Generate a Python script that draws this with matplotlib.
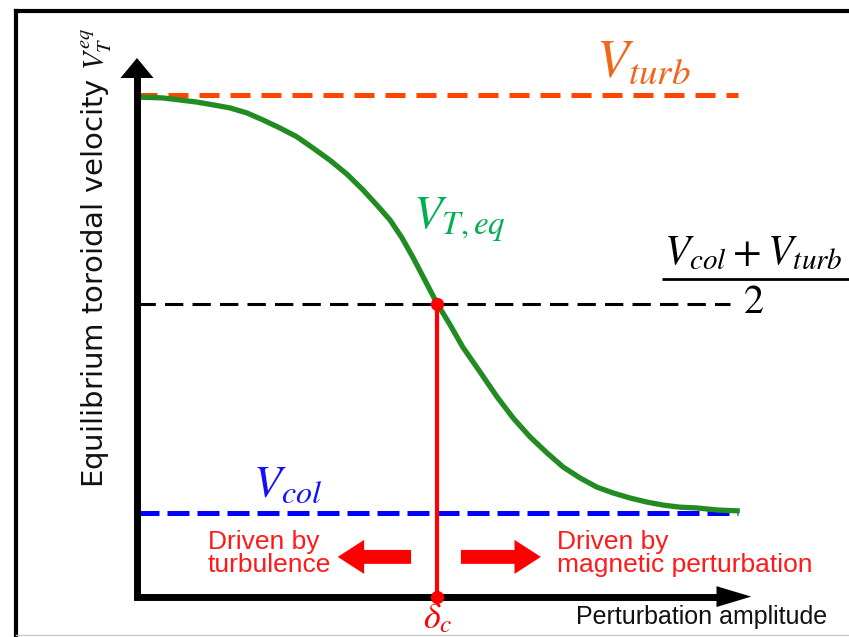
import matplotlib
matplotlib.use("Agg")
import matplotlib.pyplot as plt
from matplotlib.lines import Line2D

plt.rcParams['mathtext.fontset'] = 'stix'

# ---- data (normalised units: V_col = 0, V_turb = 1, amplitude 0..1) ----
amplitude = [0.000, 0.022, 0.043, 0.072, 0.100, 0.128, 0.155, 0.183, 0.210, 0.238,
             0.266, 0.293, 0.321, 0.349, 0.376, 0.399, 0.421, 0.441, 0.459, 0.479,
             0.499, 0.521, 0.542, 0.571, 0.599, 0.626, 0.654, 0.682, 0.709, 0.737,
             0.765, 0.792, 0.820, 0.849, 0.875, 0.903, 0.932, 0.967, 1.003]
velocity = [0.995, 0.994, 0.993, 0.988, 0.983, 0.976, 0.969, 0.957, 0.940, 0.921,
            0.900, 0.873, 0.844, 0.811, 0.773, 0.737, 0.701, 0.658, 0.612, 0.557,
            0.502, 0.450, 0.397, 0.337, 0.278, 0.227, 0.182, 0.144, 0.110, 0.084,
            0.062, 0.048, 0.036, 0.026, 0.019, 0.014, 0.012, 0.007, 0.005]
v_turb = 1.0
v_col = 0.0
v_mid = 0.5
delta_c = 0.5
x_end = 1.0
x_mid_end = 0.987

fig = plt.figure(figsize=(8.49, 6.37), dpi=100)
ax = fig.add_axes([0, 0, 1, 1])
ax.set_xlim(-137 / 601, 712 / 601)
ax.set_ylim((513 - 637) / 418, 513 / 418)
ax.axis('off')

# outer frame
fig.add_artist(Line2D([16 / 849, 16 / 849], [0, 1 - 11 / 637], color='black', lw=3,
                      transform=fig.transFigure))
fig.add_artist(Line2D([16 / 849, 1], [1 - 11 / 637, 1 - 11 / 637], color='black', lw=3,
                      transform=fig.transFigure, solid_capstyle='projecting'))
fig.add_artist(Line2D([16 / 849, 1], [1 - 635 / 637, 1 - 635 / 637], color='#c8c8c8', lw=1,
                      transform=fig.transFigure))

# axes with arrows
y_axis_x = 0.0
x_axis_y = -0.2
ax.plot([y_axis_x, y_axis_x, 0.98], [1.05, x_axis_y, x_axis_y], color='black', lw=5,
        solid_joinstyle='miter', solid_capstyle='butt', zorder=5)
ax.annotate('', xy=(y_axis_x, 1.0885), xytext=(y_axis_x, 1.04),
            arrowprops=dict(arrowstyle='-|>,head_length=14.4,head_width=11.9',
                            mutation_scale=1, lw=0, color='black', shrinkA=0, shrinkB=0),
            zorder=6)
ax.annotate('', xy=(1.022, x_axis_y), xytext=(0.96, x_axis_y),
            arrowprops=dict(arrowstyle='-|>,head_length=25,head_width=7.5',
                            mutation_scale=1, lw=0, color='black', shrinkA=0, shrinkB=0),
            zorder=6)

# reference lines
ax.plot([0, x_end], [v_turb, v_turb], color='#FF4500', lw=3.6, dashes=(4, 2.2), zorder=3)
ax.plot([0, x_end], [v_col, v_col], color='#0000FF', lw=3.6, dashes=(4.4, 1.6), zorder=3)
ax.plot([0, x_mid_end], [v_mid, v_mid], color='black', lw=2.2, dashes=(6, 3), zorder=3)

# equilibrium velocity curve
ax.plot(amplitude, velocity, color='#228B22', lw=3.8, solid_capstyle='butt',
        solid_joinstyle='round', zorder=4)

# critical amplitude marker
ax.plot([delta_c, delta_c], [v_mid, x_axis_y], color='#FF0000', lw=3, zorder=7,
        marker='o', markersize=8.5)

# red direction arrows
ax.annotate('', xy=(0.334, -0.105), xytext=(0.456, -0.105),
            arrowprops=dict(arrowstyle='simple,head_length=19,head_width=24.5,tail_width=10',
                            mutation_scale=1, lw=0, color='#FF0000', shrinkA=0, shrinkB=0))
ax.annotate('', xy=(0.672, -0.105), xytext=(0.539, -0.105),
            arrowprops=dict(arrowstyle='simple,head_length=19,head_width=24.5,tail_width=10',
                            mutation_scale=1, lw=0, color='#FF0000', shrinkA=0, shrinkB=0))

# texts
ax.text(0.842, 1.079, r'$V_{turb}$', color='#F0661A', fontsize=38, ha='center', va='center')
ax.text(0.536, 0.701, r'$V_{T,eq}$', color='#00B050', fontsize=34, ha='center', va='center')
ax.text(0.250, 0.067, r'$V_{col}$', color='#1010FF', fontsize=33, ha='center', va='center')
ax.text(1.025, 0.624, r'$V_{col} + V_{turb}$', color='black', fontsize=30,
        ha='center', va='center')
ax.plot([0.874, 1.185], [0.560, 0.560], color='black', lw=2, solid_capstyle='butt')
ax.text(1.025, 0.505, r'$2$', color='black', fontsize=29, ha='center', va='center')
ax.text(delta_c, -0.252, r'$\delta_c$', color='#FF0000', fontsize=26, ha='center', va='center')
ax.text(0.940, -0.249, 'Perturbation amplitude', color='#111111', fontsize=18,
        family='Liberation Sans', ha='center', va='center')
ax.text(0.118, -0.096, 'Driven by\nturbulence', color='#FF1A1A', fontsize=19,
        family='Liberation Sans', ha='left', va='center', linespacing=0.95)
ax.text(0.699, -0.096, 'Driven by\nmagnetic perturbation', color='#FF1A1A', fontsize=19,
        family='Liberation Sans', ha='left', va='center', linespacing=0.95)
ax.text(-0.066, 0.61, r'Equilibrium toroidal velocity $V_T^{eq}$', color='#111111',
        fontsize=21, family='DejaVu Sans', rotation=90, ha='center', va='center')

fig.savefig('out.png', dpi=100)
